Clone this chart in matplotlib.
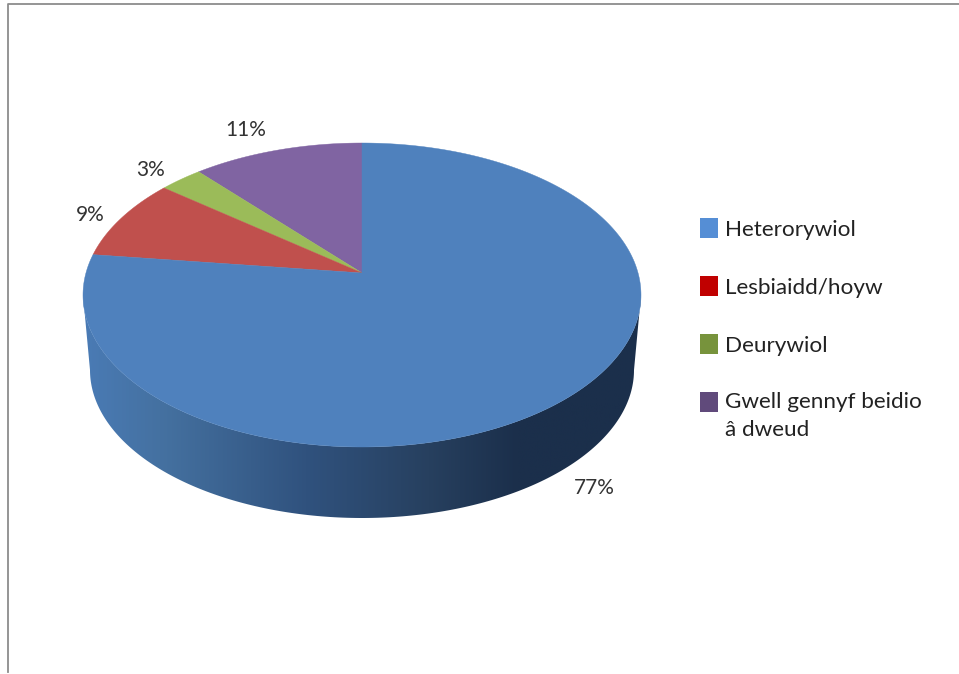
import numpy as np
import matplotlib
matplotlib.use('Agg')
import matplotlib.pyplot as plt
from matplotlib.colors import LinearSegmentedColormap
from matplotlib.patches import Patch, Polygon

categories = ['Heterorywiol', 'Lesbiaidd/hoyw', 'Deurywiol', 'Gwell gennyf beidio\nâ dweud']
values = [77.0, 8.7, 2.9, 11.4]
labels = ['77%', '9%', '3%', '11%']

top_colors = ['#4F81BD', '#C0504D', '#9BBB59', '#8064A2']
legend_colors = ['#558ED5', '#C00000', '#77933C', '#604A7B']
label_pos = [(594, 488), (90, 215), (151, 170), (246, 130)]

# pie geometry in pixels
cx, cy, rx, ry = 362, 295, 279, 152
bottom_cy, bottom_rx, bottom_ry = 370, 272, 148
tilt = 0.145  # moves the apex up, the 3d perspective of the original


def warp(u, v):
    d = 1 + tilt * v
    return cx + rx * u * np.sqrt(1 - tilt ** 2) / d, cy - ry * (v + tilt) / d


fig = plt.figure(figsize=(9.59, 6.74), dpi=100)
ax = fig.add_axes([0, 0, 1, 1])

# side wall of the disc, with the left to right shading
t = np.linspace(0, np.pi, 200)
wall_x = np.concatenate([cx + bottom_rx * np.cos(t), cx + rx * np.cos(t[::-1])])
wall_y = np.concatenate([bottom_cy + bottom_ry * np.sin(t), cy + ry * np.sin(t[::-1])])
wall = Polygon(np.column_stack([wall_x, wall_y]), closed=True, fc='none', ec='none')
ax.add_patch(wall)
shade = LinearSegmentedColormap.from_list('wall', [
    (0.0, '#4A7BB5'), (0.15, '#44709F'), (0.4, '#30527E'),
    (0.62, '#27405F'), (0.78, '#1B2F4B'), (1.0, '#1B2F4B')])
img = ax.imshow(np.linspace(0, 1, 256).reshape(1, -1), cmap=shade, aspect='auto',
                extent=(cx - rx, cx + rx, 530, 280))
img.set_clip_path(wall)

# top face, the last category ends at 12 o'clock
edges = np.cumsum([0] + values[::-1]) / sum(values) * 2 * np.pi * -1
apex_x, apex_y = warp(np.array([0.0]), np.array([0.0]))
for i, col in enumerate(top_colors[::-1]):
    a = np.linspace(edges[i], edges[i + 1], 300)
    px, py = warp(np.sin(a), np.cos(a))
    ax.fill(np.r_[apex_x, px], np.r_[apex_y, py], color=col, lw=0.3)

for lab, (lx, ly) in zip(labels, label_pos):
    ax.text(lx, ly, lab, ha='center', va='center', fontsize=15, family='Lato', color='#333333')

handles = [Patch(fc=c, ec='none') for c in legend_colors]
leg = ax.legend(handles, categories, loc='upper left', bbox_to_anchor=(700 / 959, 1 - 218 / 674),
                frameon=False, prop={'family': 'Lato', 'size': 16.2}, labelcolor='#222222',
                handlelength=0.81, handleheight=1.02, handletextpad=0.31, labelspacing=1.6,
                borderpad=0, borderaxespad=0)
# two line entry: wider line gap, swatch sits next to the first line
leg.get_texts()[3].set_linespacing(1.5)
last = leg.get_patches()[3]
last.set_y(last.get_y() + 10)

# thin grey frame, only top and left are visible in the original
ax.plot([8, 8, 959], [672, 4, 4], color='#8C8C8C', lw=1.3)

ax.set_xlim(0, 959)
ax.set_ylim(674, 0)
ax.axis('off')
fig.savefig('out.png', dpi=100)
